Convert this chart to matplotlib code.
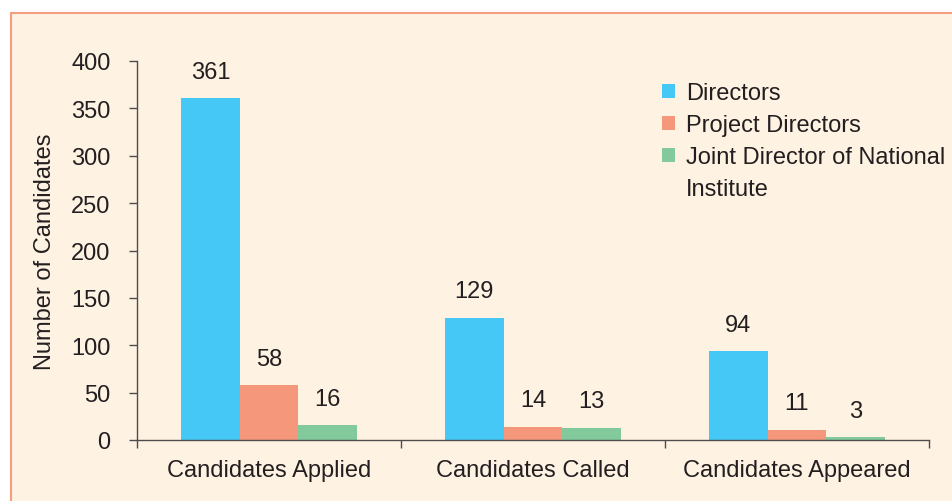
import matplotlib
matplotlib.use("Agg")
import matplotlib.pyplot as plt
from matplotlib.patches import Rectangle
import numpy as np

plt.rcParams['font.family'] = ['Liberation Sans', 'DejaVu Sans']

categories = ["Candidates Applied", "Candidates Called", "Candidates Appeared"]
series_names = ["Directors", "Project Directors", "Joint Director of National\nInstitute"]
directors = [361, 129, 94]
project_directors = [58, 14, 11]
joint_directors = [16, 13, 3]
y_ticks = [0, 50, 100, 150, 200, 250, 300, 350, 400]

colors = ["#45C8F5", "#F4977A", "#82C99C"]
bg = "#FEF2E2"
border = "#F4A080"
text_c = "#231F20"
axis_c = "#4D4D4D"
FS = 17

W, H = 953, 502
fig = plt.figure(figsize=(W / 100, H / 100), dpi=100)
fig.patch.set_facecolor("white")
fig.patches.append(Rectangle((10.5 / W, -0.01), 1.05, 1 - 13.5 / H + 0.01,
                             transform=fig.transFigure, facecolor=bg,
                             edgecolor=border, linewidth=1.5, zorder=-10))

ax = fig.add_axes([137 / W, 1 - 441 / H, (929 - 137) / W, (441 - 62) / H])
ax.set_facecolor("none")

x = np.arange(len(categories))
bw = 0.222
all_series = [directors, project_directors, joint_directors]
handles, labels = [], []
for i, (vals, name, c) in enumerate(zip(all_series, series_names, colors)):
    pos = x + (i - 1) * bw
    ax.bar(pos, vals, width=bw, color=c, zorder=2)
    for p, v in zip(pos, vals):
        ax.annotate(str(v), (p, v), xytext=(0, 11), textcoords="offset points",
                    ha="center", va="bottom", fontsize=FS, color=text_c)
    parts = name.split("\n")
    handles.append(Rectangle((0, 0), 1, 1, facecolor=c))
    labels.append(parts[0])
    for extra in parts[1:]:
        handles.append(Rectangle((0, 0), 1, 1, facecolor="none", edgecolor="none"))
        labels.append(extra)

ax.set_xlim(-0.5, 2.5)
ax.set_ylim(0, 400)
ax.set_yticks(y_ticks)
ax.tick_params(axis="y", direction="out", length=6, width=1, color=axis_c,
               labelsize=FS, labelcolor=text_c, pad=13)
ax.set_xticks(x)
ax.set_xticklabels(categories)
ax.tick_params(axis="x", which="major", length=0, labelsize=FS,
               labelcolor=text_c, pad=14)
ax.set_xticks([-0.5, 0.5, 1.5, 2.5], minor=True)
ax.tick_params(axis="x", which="minor", direction="out", length=6, width=1,
               color=axis_c)

for s in ["top", "right"]:
    ax.spines[s].set_visible(False)
for s in ["left", "bottom"]:
    ax.spines[s].set_color(axis_c)
    ax.spines[s].set_linewidth(1)

ax.set_ylabel("Number of Candidates", fontsize=FS, color=text_c, labelpad=11)

leg = ax.legend(handles, labels, loc="upper left", bbox_to_anchor=(0.651, 0.969),
                frameon=False, fontsize=FS, handlelength=0.55, handleheight=0.55,
                handletextpad=0.47, labelspacing=0.42, borderaxespad=0)
for t in leg.get_texts():
    t.set_color(text_c)

fig.savefig("out.png", dpi=100, facecolor=fig.get_facecolor())
